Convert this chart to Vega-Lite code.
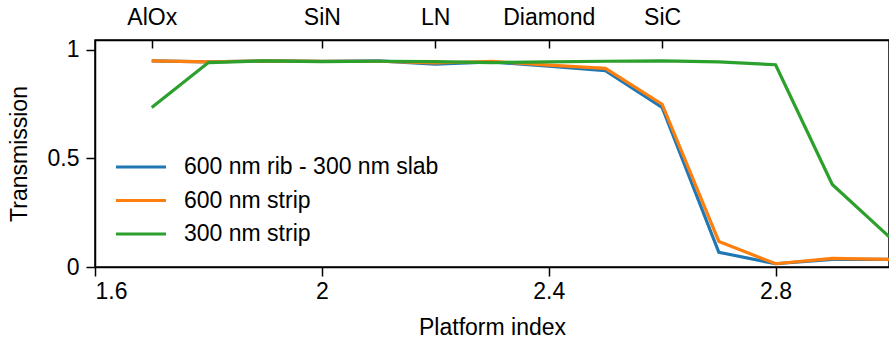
{
  "$schema": "https://vega.github.io/schema/vega-lite/v6.json",
  "width": 794,
  "height": 227,
  "autosize": {"type": "none"},
  "padding": {"left": 95, "top": 40, "right": 0, "bottom": 76},
  "background": "white",
  "config": {
    "font": "Liberation Sans",
    "view": {"stroke": "black", "strokeWidth": 1.5}
  },
  "data": {"values": [
    {"n": 1.7, "t": 0.95, "s": "600 nm rib - 300 nm slab"},
    {"n": 1.8, "t": 0.945, "s": "600 nm rib - 300 nm slab"},
    {"n": 1.9, "t": 0.95, "s": "600 nm rib - 300 nm slab"},
    {"n": 2.0, "t": 0.948, "s": "600 nm rib - 300 nm slab"},
    {"n": 2.1, "t": 0.95, "s": "600 nm rib - 300 nm slab"},
    {"n": 2.2, "t": 0.935, "s": "600 nm rib - 300 nm slab"},
    {"n": 2.3, "t": 0.945, "s": "600 nm rib - 300 nm slab"},
    {"n": 2.4, "t": 0.925, "s": "600 nm rib - 300 nm slab"},
    {"n": 2.5, "t": 0.905, "s": "600 nm rib - 300 nm slab"},
    {"n": 2.6, "t": 0.735, "s": "600 nm rib - 300 nm slab"},
    {"n": 2.7, "t": 0.068, "s": "600 nm rib - 300 nm slab"},
    {"n": 2.8, "t": 0.015, "s": "600 nm rib - 300 nm slab"},
    {"n": 2.9, "t": 0.035, "s": "600 nm rib - 300 nm slab"},
    {"n": 3.0, "t": 0.035, "s": "600 nm rib - 300 nm slab"},
    {"n": 1.7, "t": 0.95, "s": "600 nm strip"},
    {"n": 1.8, "t": 0.945, "s": "600 nm strip"},
    {"n": 1.9, "t": 0.95, "s": "600 nm strip"},
    {"n": 2.0, "t": 0.948, "s": "600 nm strip"},
    {"n": 2.1, "t": 0.948, "s": "600 nm strip"},
    {"n": 2.2, "t": 0.94, "s": "600 nm strip"},
    {"n": 2.3, "t": 0.948, "s": "600 nm strip"},
    {"n": 2.4, "t": 0.93, "s": "600 nm strip"},
    {"n": 2.5, "t": 0.915, "s": "600 nm strip"},
    {"n": 2.6, "t": 0.75, "s": "600 nm strip"},
    {"n": 2.7, "t": 0.118, "s": "600 nm strip"},
    {"n": 2.8, "t": 0.015, "s": "600 nm strip"},
    {"n": 2.9, "t": 0.04, "s": "600 nm strip"},
    {"n": 3.0, "t": 0.035, "s": "600 nm strip"},
    {"n": 1.7, "t": 0.735, "s": "300 nm strip"},
    {"n": 1.8, "t": 0.942, "s": "300 nm strip"},
    {"n": 1.9, "t": 0.95, "s": "300 nm strip"},
    {"n": 2.0, "t": 0.946, "s": "300 nm strip"},
    {"n": 2.1, "t": 0.948, "s": "300 nm strip"},
    {"n": 2.2, "t": 0.946, "s": "300 nm strip"},
    {"n": 2.3, "t": 0.942, "s": "300 nm strip"},
    {"n": 2.4, "t": 0.945, "s": "300 nm strip"},
    {"n": 2.5, "t": 0.948, "s": "300 nm strip"},
    {"n": 2.6, "t": 0.95, "s": "300 nm strip"},
    {"n": 2.7, "t": 0.945, "s": "300 nm strip"},
    {"n": 2.8, "t": 0.932, "s": "300 nm strip"},
    {"n": 2.9, "t": 0.38, "s": "300 nm strip"},
    {"n": 3.0, "t": 0.14, "s": "300 nm strip"}
  ]},
  "layer": [
    {
      "mark": {"type": "line", "strokeWidth": 3.2, "clip": true},
      "encoding": {
        "x": {"field": "n", "type": "quantitative", "scale": {"domain": [1.6, 3.0], "nice": false, "zero": false},
          "axis": {"orient": "bottom", "title": "Platform index", "values": [1.6, 2.0, 2.4, 2.8], "format": "~g",
            "tickSize": 9, "labelPadding": 4, "titlePadding": 13, "grid": false,
            "domainColor": "black", "domainWidth": 1.5, "tickColor": "black", "tickWidth": 1.5,
            "labelColor": "black", "labelFontSize": 23, "titleFontSize": 23, "titleColor": "black",
            "titleFontWeight": "normal", "labelFont": "Liberation Sans", "titleFont": "Liberation Sans"}},
        "y": {"field": "t", "type": "quantitative", "scale": {"domain": [0, 1.046], "nice": false},
          "axis": {"title": "Transmission", "values": [0, 0.5, 1], "format": "~g", "tickSize": 9, "labelPadding": 7, "titlePadding": 16, "grid": false,
            "domainColor": "black", "domainWidth": 1.5, "tickColor": "black", "tickWidth": 1.5,
            "labelColor": "black", "labelFontSize": 23, "titleFontSize": 23, "titleColor": "black",
            "titleFontWeight": "normal", "labelFont": "Liberation Sans", "titleFont": "Liberation Sans"}},
        "color": {"field": "s", "type": "nominal",
          "scale": {"domain": ["600 nm rib - 300 nm slab", "600 nm strip", "300 nm strip"], "range": ["#1f77b4", "#ff7f0e", "#2ca02c"]},
          "legend": {"title": null, "orient": "none", "legendX": 34, "legendY": 115, "labelFontSize": 23, "labelColor": "black",
            "labelFont": "Liberation Sans", "labelLimit": 0,
            "symbolType": "M-2.5,0H2.5", "symbolSize": 400, "symbolStrokeWidth": 3.2, "rowPadding": 9.5, "labelOffset": 31}},
        "order": {"field": "s", "sort": "descending"}
      }
    },
    {
      "data": {"values": [
        {"n": 1.7, "name": "AlOx"}, {"n": 2.0, "name": "SiN"}, {"n": 2.2, "name": "LN"}, {"n": 2.4, "name": "Diamond"}, {"n": 2.6, "name": "SiC"}
      ]},
      "mark": {"type": "point", "opacity": 0},
      "encoding": {
        "x": {"field": "n", "type": "quantitative",
          "axis": {"orient": "top", "title": null, "values": [1.7, 2.0, 2.2, 2.4, 2.6],
            "labelExpr": "datum.value < 1.75 ? 'AlOx' : datum.value < 2.1 ? 'SiN' : datum.value < 2.3 ? 'LN' : datum.value < 2.5 ? 'Diamond' : 'SiC'",
            "tickSize": -8, "labelPadding": 19, "grid": false,
            "domainColor": "black", "domainWidth": 1.5, "tickColor": "black", "tickWidth": 1.5,
            "labelColor": "black", "labelFontSize": 23, "labelFont": "Liberation Sans"}}
      }
    }
  ],
  "resolve": {"axis": {"x": "independent"}}
}
